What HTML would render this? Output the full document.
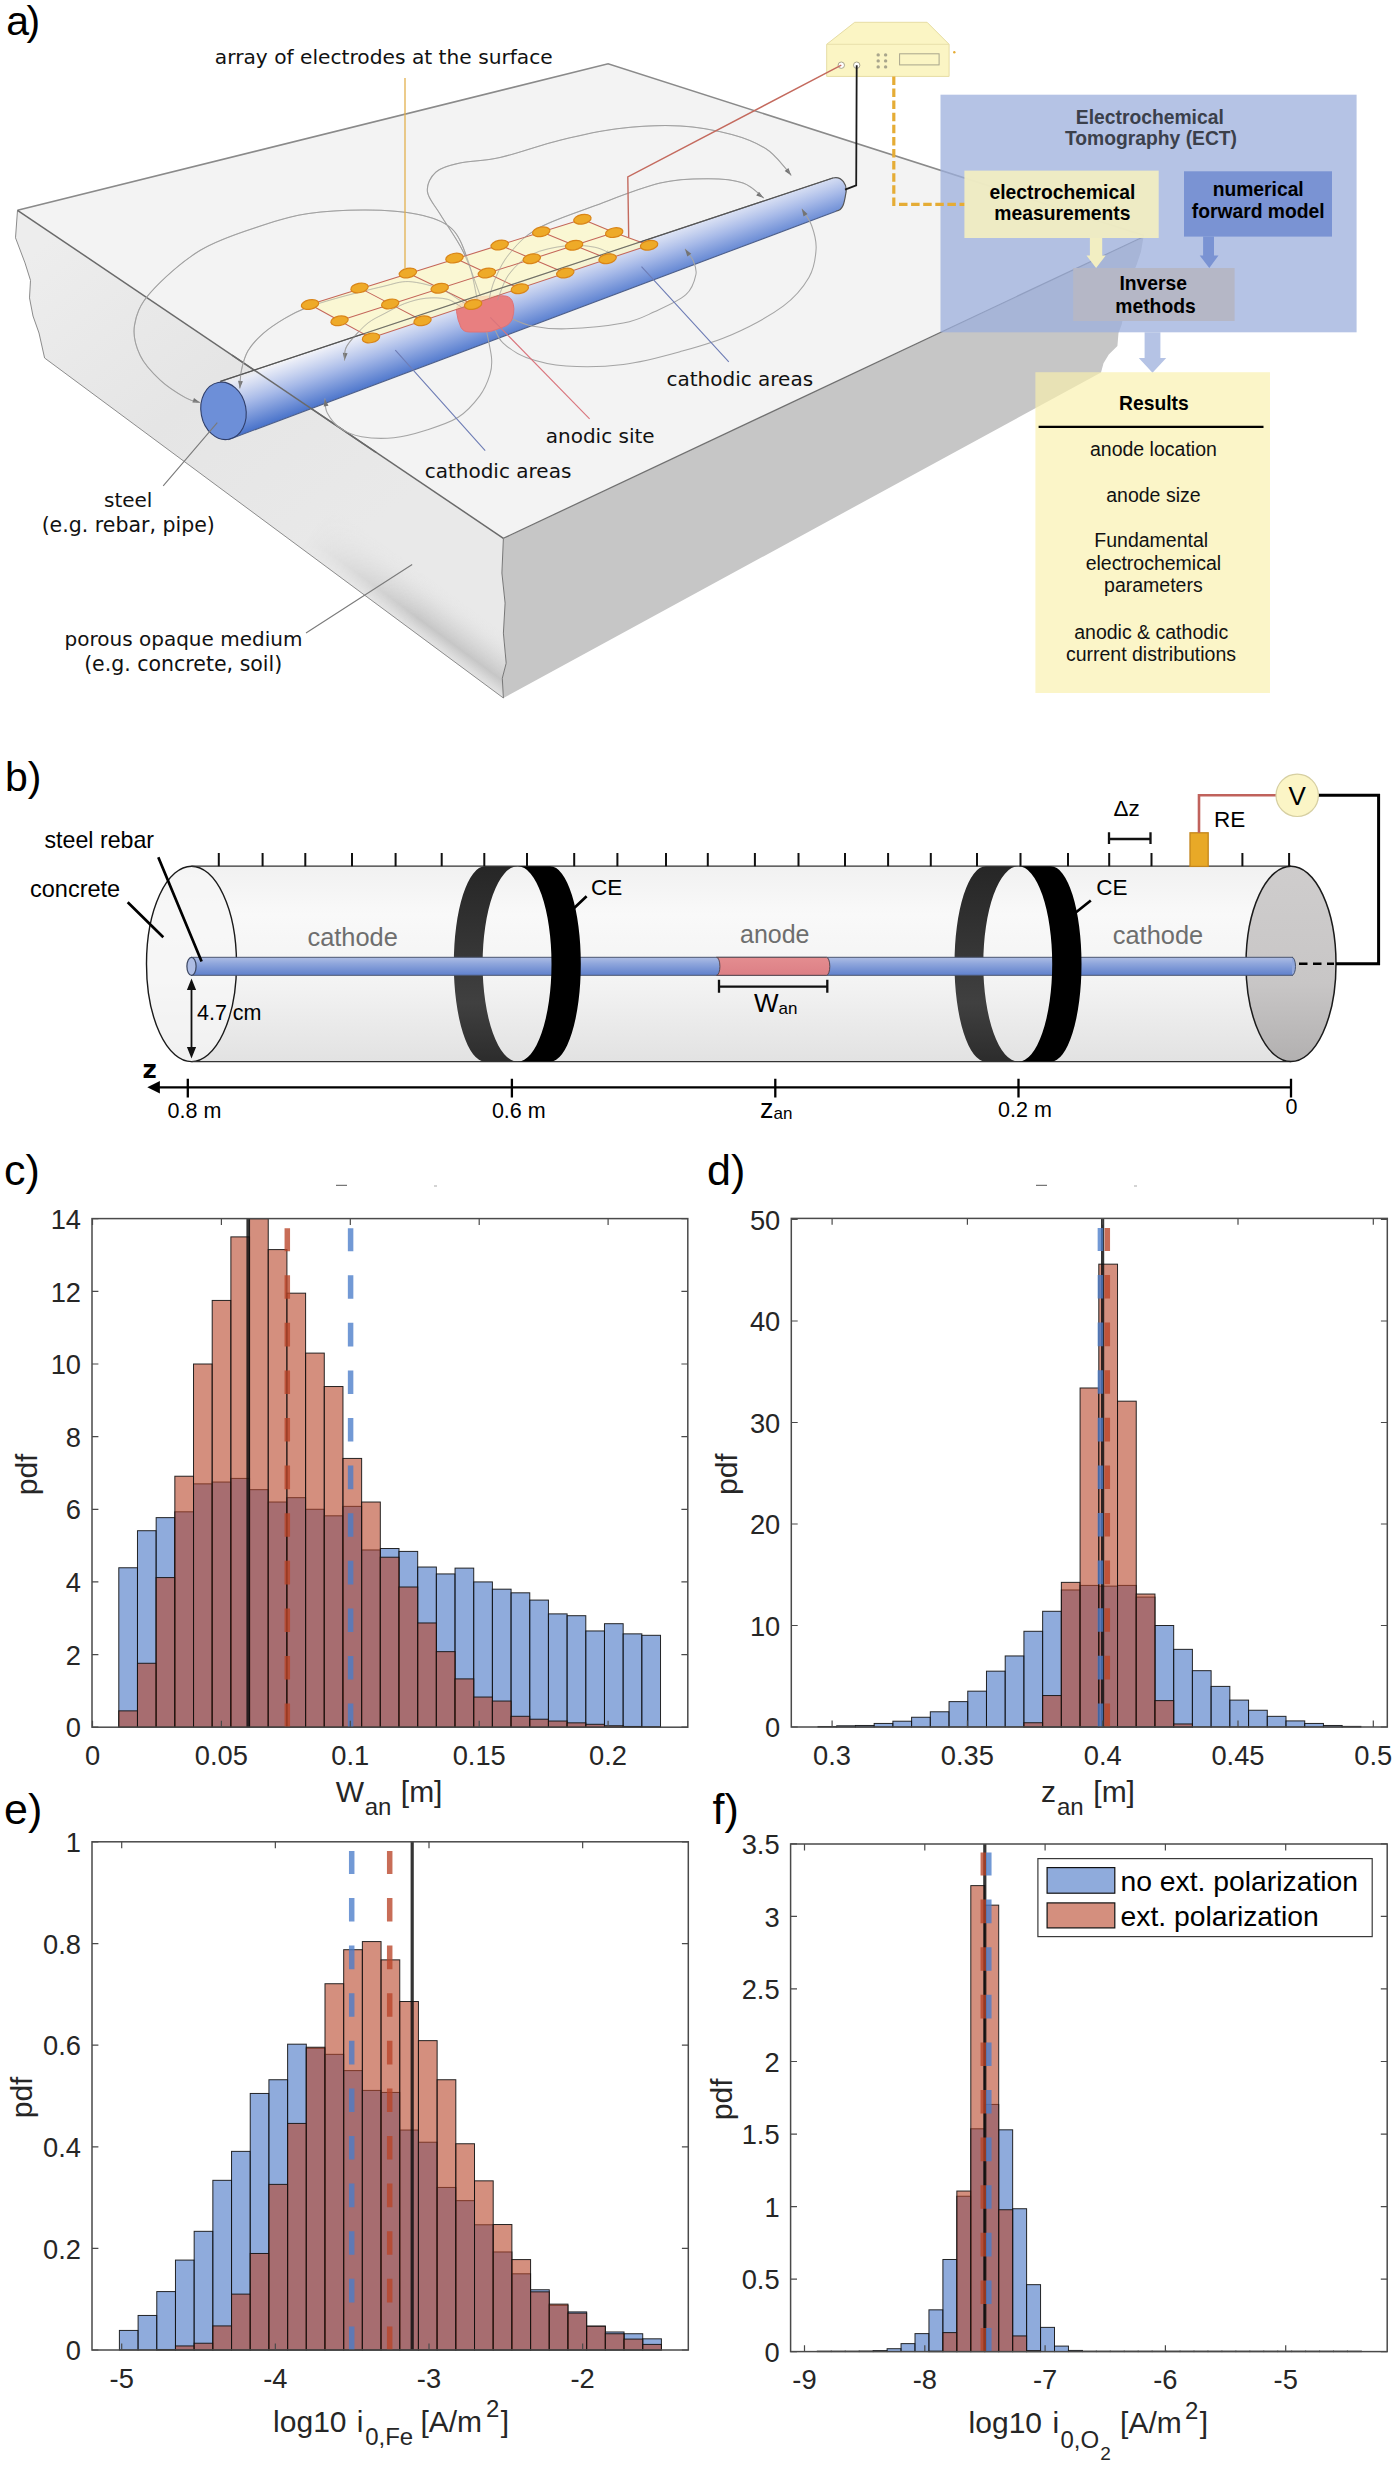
<!DOCTYPE html>
<html lang="en"><head><meta charset="utf-8"><title>Electrochemical Tomography figure</title>
<style>html,body{margin:0;padding:0;background:#fff}svg{display:block}</style></head>
<body>
<svg width="1398" height="2467" viewBox="0 0 1398 2467">
<rect width="1398" height="2467" fill="#fff"/>
<defs>
<linearGradient id="leftface" gradientUnits="userSpaceOnUse" x1="60" y1="230" x2="330" y2="560">
<stop offset="0" stop-color="#ededed"/><stop offset="0.5" stop-color="#e5e5e5"/><stop offset="1" stop-color="#e9e9e9"/></linearGradient>
<linearGradient id="leftface2" gradientUnits="userSpaceOnUse" x1="300" y1="546.9" x2="331" y2="505">
<stop offset="0" stop-color="#e2e2e2" stop-opacity="0.95"/><stop offset="0.25" stop-color="#c6c6c6" stop-opacity="1"/><stop offset="0.6" stop-color="#d9d9d9" stop-opacity="0.75"/><stop offset="1" stop-color="#e8e8e8" stop-opacity="0"/></linearGradient>
</defs>
<path d="M503.4 538.3L1143.5 237L1141 251.6L1136.7 264.5L1131.4 277.3L1126 290.2L1125 307.4L1121.7 324.5L1118.5 333.1L1117.4 346L1108.8 354.6L1103.5 363.2L1101 372.5L503.4 698L502.3 678.2L506.2 663.2L503.4 633.1L505.1 603.1L501.9 573Z" fill="#c6c6c6"/>
<path d="M17.5 210.3L15.5 237.8L25 262.9L30.5 280.4L29.5 297.9L33 316L39 333L44.6 358L503.4 698L502.3 678.2L506.2 663.2L503.4 633.1L505.1 603.1L501.9 573L503.4 538.3Z" fill="url(#leftface)"/>
<defs><linearGradient id="bandfade" gradientUnits="userSpaceOnUse" x1="300" y1="547" x2="410" y2="628"><stop offset="0" stop-color="#000"/><stop offset="1" stop-color="#fff"/></linearGradient><mask id="bandmask" maskUnits="userSpaceOnUse" x="0" y="150" width="520" height="560"><rect x="0" y="150" width="520" height="560" fill="url(#bandfade)"/></mask></defs>
<path d="M17.5 210.3L15.5 237.8L25 262.9L30.5 280.4L29.5 297.9L33 316L39 333L44.6 358L503.4 698L502.3 678.2L506.2 663.2L503.4 633.1L505.1 603.1L501.9 573L503.4 538.3Z" fill="url(#leftface2)" mask="url(#bandmask)"/>
<path d="M17.5 210.3L15.5 237.8L25 262.9L30.5 280.4L29.5 297.9L33 316L39 333L44.6 358L503.4 698" fill="none" stroke="#8c8c8c" stroke-width="1"/>
<path d="M17.5 210.3L608.1 63.8L1144 235.5L503.4 538.3Z" fill="#f3f3f3"/>
<path d="M17.5 210.3L608.1 63.8L1144 235.5" fill="none" stroke="#8a8a8a" stroke-width="1.6"/>
<path d="M17.5 210.3L503.4 538.3" fill="none" stroke="#6a6a6a" stroke-width="1.5"/>
<path d="M503.4 538.3L1144 236.5" fill="none" stroke="#707070" stroke-width="1.25"/>
<path d="M503.4 698L502.3 678.2L506.2 663.2L503.4 633.1L505.1 603.1L501.9 573L503.4 538.3" fill="none" stroke="#777" stroke-width="1"/>
<defs><linearGradient id="cylg" gradientUnits="userSpaceOnUse" x1="220.3" y1="381.4" x2="239.3" y2="435.1"><stop offset="0" stop-color="#f6f6fa" stop-opacity="0.2"/><stop offset="0.1" stop-color="#e6eaf7" stop-opacity="0.9"/><stop offset="0.5" stop-color="#a6b9e8"/><stop offset="1" stop-color="#4872ca"/></linearGradient></defs><path d="M220.3 381.4L832.8 178.0C841.8 175.5 847.8 185.0 845.8 193.5C844.3 203.0 843.1 210.2 836.1 211.2L228.3 439.7Z" fill="url(#cylg)"/>
<path d="M220.3 381.4L832.8 178.0C841.8 175.5 847.8 185.0 845.8 193.5C844.3 203.0 843.1 210.2 836.1 211.2" stroke="#555" stroke-width="1.2" fill="none"/>
<path d="M228.3 439.7L836.1 211.2" stroke="#4d5f8a" stroke-width="1.1" fill="none"/>
<ellipse cx="223.5" cy="410.9" rx="22.5" ry="28.9" transform="rotate(-10.7 223.5 410.9)" fill="#6d8fd8" stroke="#2f3e6a" stroke-width="1.1"/>
<path d="M232 355.1L376 452.3" fill="none" stroke="#6a6a6a" stroke-width="1.5"/>
<path d="M477.4 300.2C475.9 293.8 472.8 273.9 468.5 262.0C464.2 250.1 460.2 236.5 451.7 228.6C443.2 220.7 431.6 217.4 417.3 214.3C403.0 211.2 383.9 210.1 365.8 210.0C347.7 209.9 325.9 210.9 308.6 213.5C291.3 216.1 280.1 219.4 262.0 225.5C243.9 231.6 218.9 239.1 200.3 250.3C181.7 261.5 161.2 280.4 150.2 292.9C139.2 305.4 136.2 315.0 134.5 325.4C132.8 335.8 135.9 346.4 140.2 355.5C144.5 364.6 152.7 373.1 160.2 380.1C167.7 387.1 178.6 393.8 185.3 397.6C192.0 401.4 197.8 401.9 200.3 402.7M468.8 305.9C466.9 304.7 462.2 301.6 457.4 298.7C452.6 295.8 448.3 291.5 440.2 288.7C432.1 285.9 418.3 282.0 408.8 281.6C399.3 281.2 394.5 283.8 383.1 286.4C371.7 289.0 353.1 293.6 340.2 297.2C327.3 300.8 315.2 304.3 305.9 307.9C296.6 311.5 291.5 314.3 284.4 318.6C277.2 322.9 269.1 328.2 263.0 333.6C256.9 339.0 251.6 344.7 248.0 350.8C244.4 356.9 242.9 363.7 241.5 370.0C240.1 376.3 240.1 385.3 239.8 388.4M462.5 307.9C460.0 306.5 453.6 300.9 447.5 299.3C441.4 297.7 433.1 297.5 426.0 298.2C418.9 298.9 411.8 300.9 404.6 303.6C397.5 306.3 389.2 311.1 383.1 314.3C377.0 317.5 373.1 319.0 368.1 322.9C363.1 326.8 356.9 333.6 353.1 337.9C349.4 342.2 347.0 344.9 345.6 348.7C344.2 352.5 344.7 358.5 344.5 360.5M486.0 328.8C486.9 333.6 490.8 349.8 491.5 357.4C492.2 365.0 492.0 368.0 490.0 374.4C488.0 380.8 485.0 388.8 479.7 395.9C474.4 403.0 467.1 411.6 458.2 417.3C449.2 423.0 436.7 426.8 426.0 430.2C415.3 433.6 404.6 436.6 393.9 437.7C383.2 438.8 370.6 438.3 361.7 436.7C352.8 435.1 345.9 432.1 340.2 428.1C334.5 424.2 329.9 417.9 327.3 413.0C324.7 408.1 325.2 401.1 324.8 398.7M480.3 295.9C477.4 288.5 469.8 265.1 463.1 251.5C456.4 237.9 446.1 224.3 440.2 214.3C434.2 204.3 428.1 198.5 427.4 191.4C426.7 184.3 430.6 176.7 436.0 172.0C441.4 167.3 449.3 165.4 460.0 163.0C470.7 160.6 483.3 161.3 500.0 157.5C516.7 153.7 540.5 145.0 560.0 140.2C579.5 135.4 597.2 131.1 617.2 128.7C637.2 126.3 661.1 124.9 680.2 125.9C699.3 126.9 717.4 130.7 731.7 134.5C746.0 138.3 757.0 143.1 766.0 148.8C775.0 154.5 781.8 164.4 786.0 168.8C790.2 173.2 790.3 174.3 791.2 175.4M488.9 300.2C489.8 296.9 491.3 287.7 494.6 280.1C497.9 272.5 501.8 263.0 508.9 254.4C516.0 245.8 523.2 236.7 537.5 228.6C551.8 220.5 574.3 213.4 594.7 205.8C615.1 198.2 641.1 187.6 660.1 183.1C679.1 178.6 695.0 178.8 708.8 178.8C722.6 178.8 734.0 179.9 743.1 183.1C752.2 186.3 760.3 195.5 763.7 198.0M497.5 300.2C499.4 295.9 503.2 282.0 508.9 274.4C514.6 266.8 522.3 259.2 531.8 254.4C541.3 249.6 555.6 247.0 566.1 245.8C576.6 244.6 586.8 245.7 594.7 247.2C602.6 248.7 610.2 253.7 613.3 255.0M494.6 328.8C496.0 331.2 497.9 338.3 503.2 343.1C508.4 347.9 515.6 353.6 526.1 357.4C536.6 361.2 549.9 364.8 566.1 366.0C582.3 367.2 604.3 366.9 623.3 364.5C642.3 362.1 661.9 356.7 680.0 351.7C698.1 346.7 714.5 342.3 731.7 334.7C748.9 327.1 770.3 315.6 783.2 306.1C796.1 296.6 803.4 287.0 808.9 277.5C814.4 268.0 815.6 257.5 816.1 248.9C816.6 240.3 814.2 232.7 811.8 226.0C809.4 219.3 803.5 211.7 801.8 208.8M508.9 317.3C512.7 318.7 522.3 324.0 531.8 325.9C541.3 327.8 550.9 329.3 566.1 328.8C581.4 328.3 608.6 325.9 623.3 323.1C638.0 320.3 644.0 316.5 654.4 311.8C664.8 307.1 679.0 300.9 685.9 294.7C692.8 288.5 694.7 280.3 695.9 274.6C697.1 268.9 694.8 264.6 693.0 260.3C691.2 256.0 686.3 250.8 685.0 248.9" fill="none" stroke="#a4a4a4" stroke-width="1.05"/>
<path d="M200.3 402.7L192.4 402.6L194.0 398.0ZM239.8 388.4L238.1 380.7L242.9 381.2ZM344.5 360.5L342.8 352.8L347.6 353.3ZM324.8 398.7L328.5 405.7L323.7 406.5ZM791.2 175.4L784.7 171.0L788.4 168.0ZM763.7 198.0L756.2 195.5L759.0 191.7ZM613.3 255.0L605.5 254.3L607.3 249.9ZM801.8 208.8L807.6 214.1L803.5 216.5ZM685.0 248.9L691.3 253.7L687.3 256.4Z" fill="#747474"/>
<path d="M456.5 311.5Q455.5 306 461 303.5L477 297.8Q481 296.3 486 296.2L503 295.8Q509.5 295.8 512 300.5Q515.5 308 512.5 318Q510.5 324.5 503.5 327L492 331Q488 332 484 332L469.5 332Q463.5 332 461 327.5Q457.5 320 456.5 311.5Z" fill="#e87f80" stroke="#e07276" stroke-width="1"/>
<path d="M310 304.5L582.4 219.2L649.1 245.2L371 337.9Z" fill="#fbf7c9" fill-opacity="0.78"/>
<path d="M310 304.5L582.4 219.2M339.5 320.8L614.2 232.6M371 337.9L649.1 245.2M310 304.5L339.5 320.8L371 337.9M359.5 287.9L390.2 303.9L422.5 320.8M407.9 273L439.7 288.2L473.1 304.5M454.5 258.1L486.9 273L519.8 288.7M499.7 245L531.8 258.7L565.3 273M541.2 231.8L574.1 245.2L607.6 258.7M582.4 219.2L614.2 232.6L649.1 245.2" fill="none" stroke="#c4665a" stroke-width="1.05"/>
<path d="M477.4 300.2C475.9 293.8 472.8 273.9 468.5 262.0C464.2 250.1 460.2 236.5 451.7 228.6C443.2 220.7 431.6 217.4 417.3 214.3C403.0 211.2 383.9 210.1 365.8 210.0C347.7 209.9 325.9 210.9 308.6 213.5C291.3 216.1 280.1 219.4 262.0 225.5C243.9 231.6 218.9 239.1 200.3 250.3C181.7 261.5 161.2 280.4 150.2 292.9C139.2 305.4 136.2 315.0 134.5 325.4C132.8 335.8 135.9 346.4 140.2 355.5C144.5 364.6 152.7 373.1 160.2 380.1C167.7 387.1 178.6 393.8 185.3 397.6C192.0 401.4 197.8 401.9 200.3 402.7M468.8 305.9C466.9 304.7 462.2 301.6 457.4 298.7C452.6 295.8 448.3 291.5 440.2 288.7C432.1 285.9 418.3 282.0 408.8 281.6C399.3 281.2 394.5 283.8 383.1 286.4C371.7 289.0 353.1 293.6 340.2 297.2C327.3 300.8 315.2 304.3 305.9 307.9C296.6 311.5 291.5 314.3 284.4 318.6C277.2 322.9 269.1 328.2 263.0 333.6C256.9 339.0 251.6 344.7 248.0 350.8C244.4 356.9 242.9 363.7 241.5 370.0C240.1 376.3 240.1 385.3 239.8 388.4M462.5 307.9C460.0 306.5 453.6 300.9 447.5 299.3C441.4 297.7 433.1 297.5 426.0 298.2C418.9 298.9 411.8 300.9 404.6 303.6C397.5 306.3 389.2 311.1 383.1 314.3C377.0 317.5 373.1 319.0 368.1 322.9C363.1 326.8 356.9 333.6 353.1 337.9C349.4 342.2 347.0 344.9 345.6 348.7C344.2 352.5 344.7 358.5 344.5 360.5M480.3 295.9C477.4 288.5 469.8 265.1 463.1 251.5C456.4 237.9 446.1 224.3 440.2 214.3C434.2 204.3 428.1 198.5 427.4 191.4C426.7 184.3 430.6 176.7 436.0 172.0C441.4 167.3 449.3 165.4 460.0 163.0C470.7 160.6 483.3 161.3 500.0 157.5C516.7 153.7 540.5 145.0 560.0 140.2C579.5 135.4 597.2 131.1 617.2 128.7C637.2 126.3 661.1 124.9 680.2 125.9C699.3 126.9 717.4 130.7 731.7 134.5C746.0 138.3 757.0 143.1 766.0 148.8C775.0 154.5 781.8 164.4 786.0 168.8C790.2 173.2 790.3 174.3 791.2 175.4M488.9 300.2C489.8 296.9 491.3 287.7 494.6 280.1C497.9 272.5 501.8 263.0 508.9 254.4C516.0 245.8 523.2 236.7 537.5 228.6C551.8 220.5 574.3 213.4 594.7 205.8C615.1 198.2 641.1 187.6 660.1 183.1C679.1 178.6 695.0 178.8 708.8 178.8C722.6 178.8 734.0 179.9 743.1 183.1C752.2 186.3 760.3 195.5 763.7 198.0M497.5 300.2C499.4 295.9 503.2 282.0 508.9 274.4C514.6 266.8 522.3 259.2 531.8 254.4C541.3 249.6 555.6 247.0 566.1 245.8C576.6 244.6 586.8 245.7 594.7 247.2C602.6 248.7 610.2 253.7 613.3 255.0" fill="none" stroke="#9c9c9c" stroke-width="1" stroke-opacity="0.55"/>
<path d="M220.3 381.4L832.8 178.0" stroke="#555" stroke-width="1.1" fill="none" stroke-opacity="0.8"/>
<g fill="#eeaa28" stroke="#d98518" stroke-width="1.2"><ellipse cx="310" cy="304.5" rx="8.8" ry="4.7" transform="rotate(-11 310 304.5)"/><ellipse cx="359.5" cy="287.9" rx="8.8" ry="4.7" transform="rotate(-11 359.5 287.9)"/><ellipse cx="407.9" cy="273" rx="8.8" ry="4.7" transform="rotate(-11 407.9 273)"/><ellipse cx="454.5" cy="258.1" rx="8.8" ry="4.7" transform="rotate(-11 454.5 258.1)"/><ellipse cx="499.7" cy="245" rx="8.8" ry="4.7" transform="rotate(-11 499.7 245)"/><ellipse cx="541.2" cy="231.8" rx="8.8" ry="4.7" transform="rotate(-11 541.2 231.8)"/><ellipse cx="582.4" cy="219.2" rx="8.8" ry="4.7" transform="rotate(-11 582.4 219.2)"/><ellipse cx="339.5" cy="320.8" rx="8.8" ry="4.7" transform="rotate(-11 339.5 320.8)"/><ellipse cx="390.2" cy="303.9" rx="8.8" ry="4.7" transform="rotate(-11 390.2 303.9)"/><ellipse cx="439.7" cy="288.2" rx="8.8" ry="4.7" transform="rotate(-11 439.7 288.2)"/><ellipse cx="486.9" cy="273" rx="8.8" ry="4.7" transform="rotate(-11 486.9 273)"/><ellipse cx="531.8" cy="258.7" rx="8.8" ry="4.7" transform="rotate(-11 531.8 258.7)"/><ellipse cx="574.1" cy="245.2" rx="8.8" ry="4.7" transform="rotate(-11 574.1 245.2)"/><ellipse cx="614.2" cy="232.6" rx="8.8" ry="4.7" transform="rotate(-11 614.2 232.6)"/><ellipse cx="371" cy="337.9" rx="8.8" ry="4.7" transform="rotate(-11 371 337.9)"/><ellipse cx="422.5" cy="320.8" rx="8.8" ry="4.7" transform="rotate(-11 422.5 320.8)"/><ellipse cx="473.1" cy="304.5" rx="8.8" ry="4.7" transform="rotate(-11 473.1 304.5)"/><ellipse cx="519.8" cy="288.7" rx="8.8" ry="4.7" transform="rotate(-11 519.8 288.7)"/><ellipse cx="565.3" cy="273" rx="8.8" ry="4.7" transform="rotate(-11 565.3 273)"/><ellipse cx="607.6" cy="258.7" rx="8.8" ry="4.7" transform="rotate(-11 607.6 258.7)"/><ellipse cx="649.1" cy="245.2" rx="8.8" ry="4.7" transform="rotate(-11 649.1 245.2)"/></g>
<path d="M826.7 44.3L854.7 22.3H927.1L949.1 44.3V76.4H826.7Z" fill="#fbf5c4" stroke="#e6dca4" stroke-width="1"/>
<path d="M826.7 44.3H949.1" stroke="#e9e0ac" stroke-width="1" fill="none"/>
<g fill="#fff" stroke="#a9a58a" stroke-width="1"><circle cx="841.3" cy="65.2" r="3.2"/><circle cx="856.7" cy="65.2" r="3.2"/></g>
<g fill="#a9a68c"><circle cx="878.2" cy="54.9" r="1.7"/><circle cx="878.2" cy="60.9" r="1.7"/><circle cx="878.2" cy="66.9" r="1.7"/><circle cx="885.6" cy="54.9" r="1.7"/><circle cx="885.6" cy="60.9" r="1.7"/><circle cx="885.6" cy="66.9" r="1.7"/></g>
<rect x="899.6" y="53.8" width="39.5" height="11.1" fill="none" stroke="#a9a68c" stroke-width="1"/>
<circle cx="954.3" cy="52.3" r="1.2" fill="#e5ac35"/>
<path d="M405 78V268.5" stroke="#e2b04e" stroke-width="1.3" fill="none"/>
<path d="M628.7 237.5L627.8 176.8L841.3 65.2" stroke="#c46a5e" stroke-width="1.4" fill="none"/>
<path d="M856.7 65.2L856.2 185.4L845 189.7" stroke="#1a1a1a" stroke-width="1.8" fill="none"/>
<path d="M490.3 317.3L589.6 418.9" stroke="#d9747c" stroke-width="1.1" fill="none"/>
<path d="M395.3 350.2L485.2 450.7M641.5 266.6L728.8 361.9" stroke="#6e7db5" stroke-width="1.1" fill="none"/>
<path d="M163.2 485.8L217.3 422.7M306 633L412.2 564.5" stroke="#7a7a7a" stroke-width="1.1" fill="none"/>
<rect x="940.5" y="94.7" width="416.1" height="237.6" fill="#9cafdc" fill-opacity="0.75"/>
<path d="M893.8 76.4V204.3H965" stroke="#e5ac35" stroke-width="3.2" fill="none" stroke-dasharray="8.5 3.6"/>
<rect x="964.4" y="170.6" width="194.3" height="67.4" fill="#f2eec2" fill-opacity="0.93"/>
<rect x="1184" y="171.3" width="148" height="65.3" fill="#7a93d3"/>
<rect x="1073.2" y="268" width="161.4" height="53" fill="#b5b7c6"/>
<path d="M1089.9 238H1102.2V255.4H1105.7L1096.1 268L1086.5 255.4H1089.9Z" fill="#f2eec2"/>
<path d="M1203.1 236.6H1214V255.4H1218.5L1209.3 268L1199.7 255.4H1203.1Z" fill="#7a93d3"/>
<path d="M1144.6 332.3H1160.4V358H1166.2L1152.5 372.7L1138.8 358H1144.6Z" fill="#b5c3e5"/>
<rect x="1035.4" y="372.2" width="234.6" height="320.8" fill="#f9f0ac" fill-opacity="0.667"/>
<path d="M1038.6 426.9H1263.5" stroke="#000" stroke-width="2.1"/>
<g font-family="DejaVu Sans, Verdana, sans-serif" font-size="20" fill="#111">
<text x="383.8" y="64" text-anchor="middle" font-size="20.2">array of electrodes at the surface</text>
<text x="128.2" y="507.3" text-anchor="middle">steel</text>
<text x="128.2" y="532.4" text-anchor="middle" font-size="20.5">(e.g. rebar, pipe)</text>
<text x="183.5" y="646.3" text-anchor="middle">porous opaque medium</text>
<text x="183.2" y="671.3" text-anchor="middle" font-size="20.5">(e.g. concrete, soil)</text>
<text x="600.2" y="442.6" text-anchor="middle">anodic site</text>
<text x="498" y="477.6" text-anchor="middle">cathodic areas</text>
<text x="739.8" y="385.7" text-anchor="middle">cathodic areas</text>
</g>
<g font-family="Liberation Sans, Arial, Helvetica, sans-serif" font-size="19.3" font-weight="bold" text-anchor="middle">
<text x="1149.8" y="123.8" fill="#3b404b">Electrochemical</text>
<text x="1151" y="145" fill="#3b404b">Tomography (ECT)</text>
<text x="1062.4" y="198.6" fill="#000">electrochemical</text>
<text x="1062.4" y="219.5" fill="#000">measurements</text>
<text x="1258.2" y="195.6" fill="#000">numerical</text>
<text x="1258.2" y="217.8" fill="#000">forward model</text>
<text x="1153.2" y="290.3" fill="#000">Inverse</text>
<text x="1155.5" y="312.5" fill="#000">methods</text>
<text x="1153.9" y="410" fill="#000">Results</text>
</g>
<g font-family="Liberation Sans, Arial, Helvetica, sans-serif" font-size="19.5" fill="#111" text-anchor="middle">
<text x="1153.4" y="456">anode location</text>
<text x="1153.4" y="501.8">anode size</text>
<text x="1151.2" y="547.2">Fundamental</text>
<text x="1153.4" y="570">electrochemical</text>
<text x="1153.4" y="592">parameters</text>
<text x="1151.2" y="638.8">anodic &amp; cathodic</text>
<text x="1151" y="661.3">current distributions</text>
</g>
<defs>
<linearGradient id="cylbody" x1="0" y1="0" x2="0" y2="1">
<stop offset="0" stop-color="#f1f1f1"/><stop offset="0.25" stop-color="#f9f9f9"/>
<stop offset="0.6" stop-color="#f3f3f3"/><stop offset="1" stop-color="#e2e2e2"/></linearGradient>
<linearGradient id="cylend" x1="0" y1="0" x2="0" y2="1">
<stop offset="0" stop-color="#cfcdcd"/><stop offset="0.6" stop-color="#c8c6c6"/><stop offset="1" stop-color="#b2b0b0"/></linearGradient>
<linearGradient id="rebar" x1="0" y1="0" x2="0" y2="1">
<stop offset="0" stop-color="#aebde4"/><stop offset="0.35" stop-color="#8fa6dc"/><stop offset="1" stop-color="#5f80cc"/></linearGradient>
<linearGradient id="anode" x1="0" y1="0" x2="0" y2="1">
<stop offset="0" stop-color="#e48d90"/><stop offset="1" stop-color="#dc7f85"/></linearGradient>
<linearGradient id="ringback" x1="0" y1="0" x2="0" y2="1">
<stop offset="0" stop-color="#262626"/><stop offset="0.7" stop-color="#404040"/><stop offset="1" stop-color="#2c2c2c"/></linearGradient>
</defs>
<path d="M191.5 866.2L1291.0 866.2L1291.0 1061.6L191.5 1061.6A45.0 97.7 0 0 1 191.5 866.2Z" fill="url(#cylbody)"/>
<ellipse cx="191.5" cy="963.9" rx="45.0" ry="97.7" fill="#f6f6f6" fill-opacity="0.7" stroke="#1a1a1a" stroke-width="1.4"/>
<path d="M191.5 866.2H1291.0M191.5 1061.6H1291.0" stroke="#333" stroke-width="1.3" fill="none"/>
<ellipse cx="1291.0" cy="963.9" rx="45.0" ry="97.7" fill="url(#cylend)" stroke="#1a1a1a" stroke-width="1.5"/>
<path d="M485.1 866.2A31.3 97.7 0 0 0 485.1 1061.6L517.7 1061.6A35.1 97.7 0 0 1 517.7 866.2Z" fill="url(#ringback)"/>
<path d="M985.8 866.2A31.3 97.7 0 0 0 985.8 1061.6L1018.4 1061.6A35.1 97.7 0 0 1 1018.4 866.2Z" fill="url(#ringback)"/>
<rect x="191.5" y="957.3" width="1101" height="18.0" fill="url(#rebar)" stroke="#4a5670" stroke-width="1"/>
<path d="M1292 957.3a3.5 9 0 0 1 0 18.0" fill="#8fa6dc" stroke="#4a5670" stroke-width="1"/>
<ellipse cx="191.5" cy="966.3" rx="4.6" ry="9" fill="#aebde4" stroke="#3a4560" stroke-width="1.2"/>
<path d="M716.6 957.3H826.5a3.3 9 0 0 1 0 18.0H716.6a3.3 9 0 0 0 0 -18.0Z" fill="url(#anode)" stroke="#5a4a50" stroke-width="1"/>
<path d="M517.7 866.2A33.8 97.7 0 0 1 517.7 1061.6L550.2 1061.6A30.6 97.7 0 0 0 550.2 866.2Z" fill="#000"/>
<path d="M1018.4 866.2A33.8 97.7 0 0 1 1018.4 1061.6L1050.9 1061.6A30.6 97.7 0 0 0 1050.9 866.2Z" fill="#000"/>
<path d="M218.8 853v13.2M262.6 853v13.2M305.3 853v13.2M352 853v13.2M395.6 853v13.2M441.7 853v13.2M484.3 853v13.2M527 853v13.2M574.2 853v13.2M617.4 853v13.2M666 853v13.2M707.8 853v13.2M754.9 853v13.2M798.5 853v13.2M845 853v13.2M888.1 853v13.2M930.8 853v13.2M977 853v13.2M1020.5 853v13.2M1068 853v13.2M1109.2 853v13.2M1151.5 853v13.2M1242.4 853v13.2M1289.1 853v13.2" stroke="#111" stroke-width="2" fill="none"/>
<path d="M1109 839H1150.5M1109 832.3v11.8M1150.5 832.3v11.8" stroke="#111" stroke-width="2.3" fill="none"/>
<rect x="1190" y="832.8" width="18.2" height="33.6" fill="#e8a927" stroke="#c4861c" stroke-width="1.3"/>
<path d="M1199 832.8V795.2H1277" stroke="#c0625c" stroke-width="2.6" fill="none"/>
<path d="M1318 795.3H1378.6V963.8H1336" stroke="#000" stroke-width="3" fill="none" stroke-linejoin="miter"/>
<path d="M1299 963.8H1334" stroke="#000" stroke-width="2.6" fill="none" stroke-dasharray="8.5 5.5"/>
<circle cx="1297.2" cy="795.3" r="21.2" fill="#fbf5c6" stroke="#d6cfa2" stroke-width="1.2"/>
<path d="M719 986.6H827.3M719 979.8v13M827.3 979.8v13" stroke="#111" stroke-width="2.3" fill="none"/>
<path d="M191.5 984V1053" stroke="#111" stroke-width="1.8" fill="none"/>
<path d="M191.5 978.5l-4.6 11.5h9.2zM191.5 1058.6l-4.6 -11.5h9.2z" fill="#111"/>
<path d="M158.3 857.2L201.6 961.6M127.7 902.2L163.3 937.3M586.6 896.3L572.6 909.6M1090.8 900.5L1074.8 913.3" stroke="#000" stroke-width="2.7" fill="none"/>
<path d="M158 1087.3H1291" stroke="#000" stroke-width="2.3" fill="none"/>
<path d="M147.3 1087.3l12.6 -6.3v12.6z" fill="#000"/>
<path d="M187.8 1078.8v18.6M511.9 1078.8v18.6M775.3 1078.8v18.6M1018.5 1078.8v18.6M1291 1078.8v18.6" stroke="#000" stroke-width="2.3" fill="none"/>
<g font-family="Liberation Sans, Arial, Helvetica, sans-serif" fill="#000">
<text x="44.5" y="847.6" font-size="23.2">steel rebar</text>
<text x="30" y="897.2" font-size="23.5">concrete</text>
<text x="197" y="1020" font-size="21.5">4.7 cm</text>
<text x="591" y="894.5" font-size="22.5">CE</text>
<text x="1096.3" y="894.5" font-size="22.5">CE</text>
<text x="1214" y="826.7" font-size="22.5">RE</text>
<text x="1113.5" y="816" font-size="22.5">Δz</text>
<text x="1297.2" y="805" font-size="26" text-anchor="middle">V</text>
<text x="754" y="1011.7" font-size="26">W<tspan dy="2.5" font-size="17">an</tspan></text>
<text x="760" y="1117.6" font-size="27">z<tspan dy="1.5" font-size="17">an</tspan></text>
<text x="142.5" y="1077.7" font-size="24.5" font-weight="bold" font-family="DejaVu Sans, Verdana, sans-serif">z</text>
<text x="194.5" y="1117.5" font-size="21.5" text-anchor="middle">0.8 m</text>
<text x="518.8" y="1117.5" font-size="21.5" text-anchor="middle">0.6 m</text>
<text x="1025" y="1116.6" font-size="21.5" text-anchor="middle">0.2 m</text>
<text x="1291.5" y="1114.3" font-size="21.5" text-anchor="middle">0</text>
</g>
<g font-family="Liberation Sans, Arial, Helvetica, sans-serif" fill="#6e6e6e" font-size="25.4">
<text x="307.5" y="946.3">cathode</text>
<text x="740" y="943.4" font-size="25">anode</text>
<text x="1112.8" y="944.2">cathode</text>
</g>
<g>
<rect x="92" y="1218.6" width="595.8" height="508.6" fill="#fff"/>
<g fill="#4573c4" fill-opacity="0.6" stroke="#111" stroke-width="1" stroke-opacity="0.9">
<rect x="118.8" y="1567.76" width="18.68" height="159.44"/>
<rect x="137.48" y="1530.71" width="18.68" height="196.49"/>
<rect x="156.16" y="1517.63" width="18.68" height="209.57"/>
<rect x="174.84" y="1511.82" width="18.68" height="215.38"/>
<rect x="193.52" y="1483.86" width="18.68" height="243.34"/>
<rect x="212.2" y="1482.04" width="18.68" height="245.16"/>
<rect x="230.88" y="1478.41" width="18.68" height="248.79"/>
<rect x="249.56" y="1489.67" width="18.68" height="237.53"/>
<rect x="268.24" y="1502.02" width="18.68" height="225.18"/>
<rect x="286.92" y="1497.66" width="18.68" height="229.54"/>
<rect x="305.6" y="1509.28" width="18.68" height="217.92"/>
<rect x="324.28" y="1515.82" width="18.68" height="211.38"/>
<rect x="342.96" y="1506.37" width="18.68" height="220.83"/>
<rect x="361.64" y="1549.96" width="18.68" height="177.24"/>
<rect x="380.32" y="1548.51" width="18.68" height="178.69"/>
<rect x="399" y="1551.41" width="18.68" height="175.79"/>
<rect x="417.68" y="1567.03" width="18.68" height="160.17"/>
<rect x="436.36" y="1573.93" width="18.68" height="153.27"/>
<rect x="455.04" y="1568.12" width="18.68" height="159.08"/>
<rect x="473.72" y="1581.92" width="18.68" height="145.28"/>
<rect x="492.4" y="1589.18" width="18.68" height="138.02"/>
<rect x="511.08" y="1592.82" width="18.68" height="134.38"/>
<rect x="529.76" y="1600.08" width="18.68" height="127.12"/>
<rect x="548.44" y="1613.88" width="18.68" height="113.32"/>
<rect x="567.12" y="1615.7" width="18.68" height="111.5"/>
<rect x="585.8" y="1630.95" width="18.68" height="96.25"/>
<rect x="604.48" y="1623.69" width="18.68" height="103.51"/>
<rect x="623.16" y="1633.86" width="18.68" height="93.34"/>
<rect x="641.84" y="1635.31" width="18.68" height="91.89"/>
</g>
<g fill="#b84428" fill-opacity="0.6" stroke="#111" stroke-width="1" stroke-opacity="0.9">
<rect x="118.8" y="1710.86" width="18.68" height="16.34"/>
<rect x="137.48" y="1663.28" width="18.68" height="63.92"/>
<rect x="156.16" y="1577.56" width="18.68" height="149.64"/>
<rect x="174.84" y="1476.23" width="18.68" height="250.97"/>
<rect x="193.52" y="1364" width="18.68" height="363.2"/>
<rect x="212.2" y="1300.44" width="18.68" height="426.76"/>
<rect x="230.88" y="1236.88" width="18.68" height="490.32"/>
<rect x="249.56" y="1218.72" width="18.68" height="508.48"/>
<rect x="268.24" y="1249.59" width="18.68" height="477.61"/>
<rect x="286.92" y="1293.18" width="18.68" height="434.02"/>
<rect x="305.6" y="1353.1" width="18.68" height="374.1"/>
<rect x="324.28" y="1386.52" width="18.68" height="340.68"/>
<rect x="342.96" y="1458.43" width="18.68" height="268.77"/>
<rect x="361.64" y="1502.02" width="18.68" height="225.18"/>
<rect x="380.32" y="1557.22" width="18.68" height="169.98"/>
<rect x="399" y="1587" width="18.68" height="140.2"/>
<rect x="417.68" y="1622.96" width="18.68" height="104.24"/>
<rect x="436.36" y="1651.65" width="18.68" height="75.55"/>
<rect x="455.04" y="1678.89" width="18.68" height="48.31"/>
<rect x="473.72" y="1697.05" width="18.68" height="30.15"/>
<rect x="492.4" y="1701.05" width="18.68" height="26.15"/>
<rect x="511.08" y="1716.3" width="18.68" height="10.9"/>
<rect x="529.76" y="1719.21" width="18.68" height="7.99"/>
<rect x="548.44" y="1721.03" width="18.68" height="6.17"/>
<rect x="567.12" y="1722.84" width="18.68" height="4.36"/>
<rect x="585.8" y="1724.29" width="18.68" height="2.91"/>
<rect x="604.48" y="1725.75" width="18.68" height="1.45"/>
<rect x="623.16" y="1726.47" width="18.68" height="0.73"/>
<rect x="641.84" y="1726.84" width="18.68" height="0.36"/>
</g>
<line x1="248" y1="1727.2" x2="248" y2="1218.6" stroke="#111" stroke-width="3.2" stroke-opacity="0.85"/>
<line x1="287.3" y1="1727.2" x2="287.3" y2="1228.2" stroke="#b84428" stroke-width="5.5" stroke-opacity="0.78" stroke-dasharray="23.6 24"/>
<line x1="350.6" y1="1727.2" x2="350.6" y2="1228.2" stroke="#4a7cc9" stroke-width="5.5" stroke-opacity="0.78" stroke-dasharray="23.6 24"/>
<rect x="92" y="1218.6" width="595.8" height="508.6" fill="none" stroke="#4a4a4a" stroke-width="1.5"/>
<path d="M92.5 1727.2v-6.4M92.5 1218.6v6.4M221.4 1727.2v-6.4M221.4 1218.6v6.4M350.3 1727.2v-6.4M350.3 1218.6v6.4M479.2 1727.2v-6.4M479.2 1218.6v6.4M608.1 1727.2v-6.4M608.1 1218.6v6.4M92 1727.2h6.4M687.8 1727.2h-6.4M92 1654.56h6.4M687.8 1654.56h-6.4M92 1581.92h6.4M687.8 1581.92h-6.4M92 1509.28h6.4M687.8 1509.28h-6.4M92 1436.64h6.4M687.8 1436.64h-6.4M92 1364h6.4M687.8 1364h-6.4M92 1291.36h6.4M687.8 1291.36h-6.4M92 1218.72h6.4M687.8 1218.72h-6.4" stroke="#4a4a4a" stroke-width="1.2" fill="none"/>
<g font-family="Liberation Sans, Arial, Helvetica, sans-serif" font-size="27.3" fill="#262626">
<text x="92.5" y="1764.7" text-anchor="middle">0</text>
<text x="221.4" y="1764.7" text-anchor="middle">0.05</text>
<text x="350.3" y="1764.7" text-anchor="middle">0.1</text>
<text x="479.2" y="1764.7" text-anchor="middle">0.15</text>
<text x="608.1" y="1764.7" text-anchor="middle">0.2</text>
<text x="81" y="1737.4" text-anchor="end">0</text>
<text x="81" y="1664.76" text-anchor="end">2</text>
<text x="81" y="1592.12" text-anchor="end">4</text>
<text x="81" y="1519.48" text-anchor="end">6</text>
<text x="81" y="1446.84" text-anchor="end">8</text>
<text x="81" y="1374.2" text-anchor="end">10</text>
<text x="81" y="1301.56" text-anchor="end">12</text>
<text x="81" y="1228.92" text-anchor="end">14</text>
</g>
<text font-family="Liberation Sans, Arial, Helvetica, sans-serif" font-size="30" fill="#262626" text-anchor="middle" transform="translate(37.3 1474.4) rotate(-90)">pdf</text>
<g font-family="Liberation Sans, Arial, Helvetica, sans-serif" fill="#262626"><text x="335.7" y="1801.8" font-size="30">W</text><text x="364.7" y="1815.4" font-size="24">an</text><text x="400.8" y="1801.8" font-size="30">[m]</text></g>
</g>
<g>
<rect x="791.3" y="1218.4" width="596" height="508.6" fill="#fff"/>
<g fill="#4573c4" fill-opacity="0.6" stroke="#111" stroke-width="1" stroke-opacity="0.9">
<rect x="818" y="1726.49" width="18.72" height="0.51"/>
<rect x="836.72" y="1725.78" width="18.72" height="1.22"/>
<rect x="855.44" y="1725.48" width="18.72" height="1.52"/>
<rect x="874.16" y="1723.45" width="18.72" height="3.55"/>
<rect x="892.88" y="1721.21" width="18.72" height="5.79"/>
<rect x="911.6" y="1717.26" width="18.72" height="9.74"/>
<rect x="930.32" y="1711.78" width="18.72" height="15.22"/>
<rect x="949.04" y="1701.62" width="18.72" height="25.38"/>
<rect x="967.76" y="1691.17" width="18.72" height="35.83"/>
<rect x="986.48" y="1671.17" width="18.72" height="55.83"/>
<rect x="1005.2" y="1655.95" width="18.72" height="71.05"/>
<rect x="1023.92" y="1631.29" width="18.72" height="95.71"/>
<rect x="1042.64" y="1611.29" width="18.72" height="115.71"/>
<rect x="1061.36" y="1589.97" width="18.72" height="137.03"/>
<rect x="1080.08" y="1585.41" width="18.72" height="141.59"/>
<rect x="1098.8" y="1586.12" width="18.72" height="140.88"/>
<rect x="1117.52" y="1585.41" width="18.72" height="141.59"/>
<rect x="1136.24" y="1597.08" width="18.72" height="129.92"/>
<rect x="1154.96" y="1625.5" width="18.72" height="101.5"/>
<rect x="1173.68" y="1649.35" width="18.72" height="77.65"/>
<rect x="1192.4" y="1670.67" width="18.72" height="56.33"/>
<rect x="1211.12" y="1686.4" width="18.72" height="40.6"/>
<rect x="1229.84" y="1700.1" width="18.72" height="26.9"/>
<rect x="1248.56" y="1710.25" width="18.72" height="16.75"/>
<rect x="1267.28" y="1716.34" width="18.72" height="10.66"/>
<rect x="1286" y="1720.91" width="18.72" height="6.09"/>
<rect x="1304.72" y="1723.45" width="18.72" height="3.55"/>
<rect x="1323.44" y="1725.48" width="18.72" height="1.52"/>
<rect x="1342.16" y="1726.39" width="18.72" height="0.61"/>
</g>
<g fill="#b84428" fill-opacity="0.6" stroke="#111" stroke-width="1" stroke-opacity="0.9">
<rect x="1023.92" y="1722.74" width="18.72" height="4.26"/>
<rect x="1042.64" y="1695.54" width="18.72" height="31.46"/>
<rect x="1061.36" y="1582.36" width="18.72" height="144.64"/>
<rect x="1080.08" y="1387.99" width="18.72" height="339.01"/>
<rect x="1098.8" y="1264.16" width="18.72" height="462.84"/>
<rect x="1117.52" y="1401.18" width="18.72" height="325.82"/>
<rect x="1136.24" y="1594.04" width="18.72" height="132.96"/>
<rect x="1154.96" y="1700.61" width="18.72" height="26.39"/>
<rect x="1173.68" y="1723.95" width="18.72" height="3.05"/>
</g>
<line x1="1102.6" y1="1727" x2="1102.6" y2="1218.4" stroke="#111" stroke-width="3.2" stroke-opacity="0.85"/>
<line x1="1107.3" y1="1727" x2="1107.3" y2="1228" stroke="#b84428" stroke-width="5.5" stroke-opacity="0.78" stroke-dasharray="23.6 24"/>
<line x1="1100.4" y1="1727" x2="1100.4" y2="1228" stroke="#4a7cc9" stroke-width="5.5" stroke-opacity="0.78" stroke-dasharray="23.6 24"/>
<rect x="791.3" y="1218.4" width="596" height="508.6" fill="none" stroke="#4a4a4a" stroke-width="1.5"/>
<path d="M832.1 1727v-6.4M832.1 1218.4v6.4M967.4 1727v-6.4M967.4 1218.4v6.4M1102.7 1727v-6.4M1102.7 1218.4v6.4M1238 1727v-6.4M1238 1218.4v6.4M1373.3 1727v-6.4M1373.3 1218.4v6.4M791.3 1727h6.4M1387.3 1727h-6.4M791.3 1625.5h6.4M1387.3 1625.5h-6.4M791.3 1524h6.4M1387.3 1524h-6.4M791.3 1422.5h6.4M1387.3 1422.5h-6.4M791.3 1321h6.4M1387.3 1321h-6.4M791.3 1219.5h6.4M1387.3 1219.5h-6.4" stroke="#4a4a4a" stroke-width="1.2" fill="none"/>
<g font-family="Liberation Sans, Arial, Helvetica, sans-serif" font-size="27.3" fill="#262626">
<text x="832.1" y="1764.5" text-anchor="middle">0.3</text>
<text x="967.4" y="1764.5" text-anchor="middle">0.35</text>
<text x="1102.7" y="1764.5" text-anchor="middle">0.4</text>
<text x="1238" y="1764.5" text-anchor="middle">0.45</text>
<text x="1373.3" y="1764.5" text-anchor="middle">0.5</text>
<text x="780.3" y="1737.2" text-anchor="end">0</text>
<text x="780.3" y="1635.7" text-anchor="end">10</text>
<text x="780.3" y="1534.2" text-anchor="end">20</text>
<text x="780.3" y="1432.7" text-anchor="end">30</text>
<text x="780.3" y="1331.2" text-anchor="end">40</text>
<text x="780.3" y="1229.7" text-anchor="end">50</text>
</g>
<text font-family="Liberation Sans, Arial, Helvetica, sans-serif" font-size="30" fill="#262626" text-anchor="middle" transform="translate(736.5 1474.2) rotate(-90)">pdf</text>
<g font-family="Liberation Sans, Arial, Helvetica, sans-serif" fill="#262626"><text x="1041.1" y="1801.8" font-size="30">z</text><text x="1056.9" y="1814.8" font-size="24">an</text><text x="1093.3" y="1801.8" font-size="30">[m]</text></g>
</g>
<g>
<rect x="92" y="1841.8" width="596.3" height="508.2" fill="#fff"/>
<g fill="#4573c4" fill-opacity="0.6" stroke="#111" stroke-width="1" stroke-opacity="0.9">
<rect x="119.4" y="2330.44" width="18.69" height="19.56"/>
<rect x="138.09" y="2315.46" width="18.69" height="34.54"/>
<rect x="156.78" y="2291.58" width="18.69" height="58.42"/>
<rect x="175.47" y="2260.08" width="18.69" height="89.92"/>
<rect x="194.16" y="2231.33" width="18.69" height="118.67"/>
<rect x="212.85" y="2180.33" width="18.69" height="169.67"/>
<rect x="231.54" y="2151.37" width="18.69" height="198.63"/>
<rect x="250.23" y="2093.46" width="18.69" height="256.54"/>
<rect x="268.92" y="2079.74" width="18.69" height="270.26"/>
<rect x="287.61" y="2044.18" width="18.69" height="305.82"/>
<rect x="306.3" y="2048.25" width="18.69" height="301.75"/>
<rect x="324.99" y="2054.34" width="18.69" height="295.66"/>
<rect x="343.68" y="2070.6" width="18.69" height="279.4"/>
<rect x="362.37" y="2090.41" width="18.69" height="259.59"/>
<rect x="381.06" y="2092.44" width="18.69" height="257.56"/>
<rect x="399.75" y="2130.04" width="18.69" height="219.96"/>
<rect x="418.44" y="2142.23" width="18.69" height="207.77"/>
<rect x="437.13" y="2187.44" width="18.69" height="162.56"/>
<rect x="455.82" y="2200.65" width="18.69" height="149.35"/>
<rect x="474.51" y="2224.78" width="18.69" height="125.22"/>
<rect x="493.2" y="2251.96" width="18.69" height="98.04"/>
<rect x="511.89" y="2273.8" width="18.69" height="76.2"/>
<rect x="530.58" y="2289.75" width="18.69" height="60.25"/>
<rect x="549.27" y="2305.3" width="18.69" height="44.7"/>
<rect x="567.96" y="2311.9" width="18.69" height="38.1"/>
<rect x="586.65" y="2326.12" width="18.69" height="23.88"/>
<rect x="605.34" y="2331.97" width="18.69" height="18.03"/>
<rect x="624.03" y="2333.74" width="18.69" height="16.26"/>
<rect x="642.72" y="2338.82" width="18.69" height="11.18"/>
</g>
<g fill="#b84428" fill-opacity="0.6" stroke="#111" stroke-width="1" stroke-opacity="0.9">
<rect x="156.78" y="2349.49" width="18.69" height="0.51"/>
<rect x="175.47" y="2345.94" width="18.69" height="4.06"/>
<rect x="194.16" y="2343.24" width="18.69" height="6.76"/>
<rect x="212.85" y="2325.92" width="18.69" height="24.08"/>
<rect x="231.54" y="2294.12" width="18.69" height="55.88"/>
<rect x="250.23" y="2253.48" width="18.69" height="96.52"/>
<rect x="268.92" y="2184.39" width="18.69" height="165.61"/>
<rect x="287.61" y="2123.43" width="18.69" height="226.57"/>
<rect x="306.3" y="2047.23" width="18.69" height="302.77"/>
<rect x="324.99" y="1983.73" width="18.69" height="366.27"/>
<rect x="343.68" y="1949.7" width="18.69" height="400.3"/>
<rect x="362.37" y="1941.57" width="18.69" height="408.43"/>
<rect x="381.06" y="1959.86" width="18.69" height="390.14"/>
<rect x="399.75" y="2001.51" width="18.69" height="348.49"/>
<rect x="418.44" y="2040.63" width="18.69" height="309.37"/>
<rect x="437.13" y="2079.74" width="18.69" height="270.26"/>
<rect x="455.82" y="2143.75" width="18.69" height="206.25"/>
<rect x="474.51" y="2180.84" width="18.69" height="169.16"/>
<rect x="493.2" y="2224.52" width="18.69" height="125.48"/>
<rect x="511.89" y="2259.58" width="18.69" height="90.42"/>
<rect x="530.58" y="2291.83" width="18.69" height="58.17"/>
<rect x="549.27" y="2304.13" width="18.69" height="45.87"/>
<rect x="567.96" y="2313.12" width="18.69" height="36.88"/>
<rect x="586.65" y="2326.23" width="18.69" height="23.77"/>
<rect x="605.34" y="2333.74" width="18.69" height="16.26"/>
<rect x="624.03" y="2339.08" width="18.69" height="10.92"/>
<rect x="642.72" y="2344.41" width="18.69" height="5.59"/>
</g>
<line x1="412.2" y1="2350" x2="412.2" y2="1841.8" stroke="#111" stroke-width="3.2" stroke-opacity="0.85"/>
<line x1="389.7" y1="2350" x2="389.7" y2="1851" stroke="#b84428" stroke-width="5.5" stroke-opacity="0.78" stroke-dasharray="23.6 24"/>
<line x1="351.7" y1="2350" x2="351.7" y2="1851" stroke="#4a7cc9" stroke-width="5.5" stroke-opacity="0.78" stroke-dasharray="23.6 24"/>
<rect x="92" y="1841.8" width="596.3" height="508.2" fill="none" stroke="#4a4a4a" stroke-width="1.5"/>
<path d="M121.7 2350v-6.4M121.7 1841.8v6.4M275.35 2350v-6.4M275.35 1841.8v6.4M429 2350v-6.4M429 1841.8v6.4M582.65 2350v-6.4M582.65 1841.8v6.4M92 2350h6.4M688.3 2350h-6.4M92 2248.4h6.4M688.3 2248.4h-6.4M92 2146.8h6.4M688.3 2146.8h-6.4M92 2045.2h6.4M688.3 2045.2h-6.4M92 1943.6h6.4M688.3 1943.6h-6.4M92 1842h6.4M688.3 1842h-6.4" stroke="#4a4a4a" stroke-width="1.2" fill="none"/>
<g font-family="Liberation Sans, Arial, Helvetica, sans-serif" font-size="27.3" fill="#262626">
<text x="121.7" y="2387.5" text-anchor="middle">-5</text>
<text x="275.35" y="2387.5" text-anchor="middle">-4</text>
<text x="429" y="2387.5" text-anchor="middle">-3</text>
<text x="582.65" y="2387.5" text-anchor="middle">-2</text>
<text x="81" y="2360.2" text-anchor="end">0</text>
<text x="81" y="2258.6" text-anchor="end">0.2</text>
<text x="81" y="2157" text-anchor="end">0.4</text>
<text x="81" y="2055.4" text-anchor="end">0.6</text>
<text x="81" y="1953.8" text-anchor="end">0.8</text>
<text x="81" y="1852.2" text-anchor="end">1</text>
</g>
<text font-family="Liberation Sans, Arial, Helvetica, sans-serif" font-size="30" fill="#262626" text-anchor="middle" transform="translate(32 2097.4) rotate(-90)">pdf</text>
<g font-family="Liberation Sans, Arial, Helvetica, sans-serif" fill="#262626"><text x="273.1" y="2431.5" font-size="30">log10</text><text x="356.8" y="2431.5" font-size="30">i</text><text x="365.2" y="2445" font-size="24">0,Fe</text><text x="420.4" y="2431.5" font-size="30">[A/m</text><text x="486" y="2417" font-size="24">2</text><text x="500.7" y="2431.5" font-size="30">]</text></g>
</g>
<g>
<rect x="790.6" y="1844.0" width="596.6" height="507.6" fill="#fff"/>
<g fill="#4573c4" fill-opacity="0.6" stroke="#111" stroke-width="1" stroke-opacity="0.9">
<rect x="817.35" y="2351.16" width="13.95" height="0.44"/>
<rect x="831.3" y="2351.16" width="13.95" height="0.44"/>
<rect x="845.25" y="2351.16" width="13.95" height="0.44"/>
<rect x="859.2" y="2351.02" width="13.95" height="0.58"/>
<rect x="873.15" y="2350.58" width="13.95" height="1.02"/>
<rect x="887.1" y="2348.7" width="13.95" height="2.9"/>
<rect x="901.05" y="2343.62" width="13.95" height="7.98"/>
<rect x="915" y="2333.61" width="13.95" height="17.99"/>
<rect x="928.95" y="2309.83" width="13.95" height="41.77"/>
<rect x="942.9" y="2259.49" width="13.95" height="92.11"/>
<rect x="956.85" y="2196.25" width="13.95" height="155.35"/>
<rect x="970.8" y="2128.8" width="13.95" height="222.8"/>
<rect x="984.75" y="2104.43" width="13.95" height="247.17"/>
<rect x="998.7" y="2129.82" width="13.95" height="221.78"/>
<rect x="1012.65" y="2208.73" width="13.95" height="142.87"/>
<rect x="1026.6" y="2284.66" width="13.95" height="66.94"/>
<rect x="1040.55" y="2327.38" width="13.95" height="24.22"/>
<rect x="1054.5" y="2346.09" width="13.95" height="5.51"/>
<rect x="1068.45" y="2350.44" width="13.95" height="1.16"/>
<rect x="1082.4" y="2351.16" width="13.95" height="0.44"/>
<rect x="1096.35" y="2351.16" width="13.95" height="0.44"/>
<rect x="1110.3" y="2351.16" width="13.95" height="0.44"/>
<rect x="1124.25" y="2351.16" width="13.95" height="0.44"/>
<rect x="1138.2" y="2351.16" width="13.95" height="0.44"/>
<rect x="1152.15" y="2351.16" width="13.95" height="0.44"/>
<rect x="1166.1" y="2351.16" width="13.95" height="0.44"/>
<rect x="1180.05" y="2351.16" width="13.95" height="0.44"/>
<rect x="1194" y="2351.16" width="13.95" height="0.44"/>
<rect x="1207.95" y="2351.16" width="13.95" height="0.44"/>
<rect x="1221.9" y="2351.16" width="13.95" height="0.44"/>
<rect x="1235.85" y="2351.16" width="13.95" height="0.44"/>
<rect x="1249.8" y="2351.16" width="13.95" height="0.44"/>
<rect x="1263.75" y="2351.16" width="13.95" height="0.44"/>
<rect x="1277.7" y="2351.16" width="13.95" height="0.44"/>
<rect x="1291.65" y="2351.16" width="13.95" height="0.44"/>
<rect x="1305.6" y="2351.16" width="13.95" height="0.44"/>
<rect x="1319.55" y="2351.16" width="13.95" height="0.44"/>
<rect x="1333.5" y="2351.16" width="13.95" height="0.44"/>
<rect x="1347.45" y="2351.16" width="13.95" height="0.44"/>
</g>
<g fill="#b84428" fill-opacity="0.6" stroke="#111" stroke-width="1" stroke-opacity="0.9">
<rect x="928.95" y="2351.16" width="13.95" height="0.44"/>
<rect x="942.9" y="2332.6" width="13.95" height="19"/>
<rect x="956.85" y="2191.03" width="13.95" height="160.57"/>
<rect x="970.8" y="1885.61" width="13.95" height="465.99"/>
<rect x="984.75" y="1905.14" width="13.95" height="446.46"/>
<rect x="998.7" y="2209.74" width="13.95" height="141.86"/>
<rect x="1012.65" y="2335.93" width="13.95" height="15.67"/>
<rect x="1026.6" y="2350.58" width="13.95" height="1.02"/>
</g>
<line x1="984.8" y1="2351.6" x2="984.8" y2="1844" stroke="#111" stroke-width="3.2" stroke-opacity="0.85"/>
<line x1="983.3" y1="2351.6" x2="983.3" y2="1852.6" stroke="#b84428" stroke-width="5.5" stroke-opacity="0.78" stroke-dasharray="23.6 24"/>
<line x1="988.8" y1="2351.6" x2="988.8" y2="1852.6" stroke="#4a7cc9" stroke-width="5.5" stroke-opacity="0.78" stroke-dasharray="23.6 24"/>
<rect x="790.6" y="1844.0" width="596.6" height="507.6" fill="none" stroke="#4a4a4a" stroke-width="1.5"/>
<path d="M804.5 2351.6v-6.4M804.5 1844v6.4M924.8 2351.6v-6.4M924.8 1844v6.4M1045.1 2351.6v-6.4M1045.1 1844v6.4M1165.4 2351.6v-6.4M1165.4 1844v6.4M1285.7 2351.6v-6.4M1285.7 1844v6.4M790.6 2351.6h6.4M1387.2 2351.6h-6.4M790.6 2279.07h6.4M1387.2 2279.07h-6.4M790.6 2206.55h6.4M1387.2 2206.55h-6.4M790.6 2134.03h6.4M1387.2 2134.03h-6.4M790.6 2061.5h6.4M1387.2 2061.5h-6.4M790.6 1988.97h6.4M1387.2 1988.97h-6.4M790.6 1916.45h6.4M1387.2 1916.45h-6.4M790.6 1843.92h6.4M1387.2 1843.92h-6.4" stroke="#4a4a4a" stroke-width="1.2" fill="none"/>
<g font-family="Liberation Sans, Arial, Helvetica, sans-serif" font-size="27.3" fill="#262626">
<text x="804.5" y="2389.1" text-anchor="middle">-9</text>
<text x="924.8" y="2389.1" text-anchor="middle">-8</text>
<text x="1045.1" y="2389.1" text-anchor="middle">-7</text>
<text x="1165.4" y="2389.1" text-anchor="middle">-6</text>
<text x="1285.7" y="2389.1" text-anchor="middle">-5</text>
<text x="779.6" y="2361.8" text-anchor="end">0</text>
<text x="779.6" y="2289.27" text-anchor="end">0.5</text>
<text x="779.6" y="2216.75" text-anchor="end">1</text>
<text x="779.6" y="2144.22" text-anchor="end">1.5</text>
<text x="779.6" y="2071.7" text-anchor="end">2</text>
<text x="779.6" y="1999.17" text-anchor="end">2.5</text>
<text x="779.6" y="1926.65" text-anchor="end">3</text>
<text x="779.6" y="1854.12" text-anchor="end">3.5</text>
</g>
<text font-family="Liberation Sans, Arial, Helvetica, sans-serif" font-size="30" fill="#262626" text-anchor="middle" transform="translate(732 2099.3) rotate(-90)">pdf</text>
<g font-family="Liberation Sans, Arial, Helvetica, sans-serif" fill="#262626"><text x="968.6" y="2433.2" font-size="30">log10</text><text x="1052.6" y="2433.2" font-size="30">i</text><text x="1060.4" y="2447.5" font-size="24">0,O</text><text x="1100.3" y="2460.3" font-size="19">2</text><text x="1120.1" y="2433.2" font-size="30">[A/m</text><text x="1185.1" y="2418.8" font-size="24">2</text><text x="1199.7" y="2433.2" font-size="30">]</text></g>
</g>
<rect x="1037.9" y="1858.6" width="334.3" height="78" fill="#fff" stroke="#3a3a3a" stroke-width="1.2"/>
<rect x="1047.1" y="1867.6" width="67.7" height="25.6" fill="#4573c4" fill-opacity="0.6" stroke="#111" stroke-width="1.2"/>
<rect x="1047.1" y="1902.9" width="67.7" height="25" fill="#b84428" fill-opacity="0.6" stroke="#111" stroke-width="1.2"/>
<text font-family="Liberation Sans, Arial, Helvetica, sans-serif" font-size="28.3" fill="#000" x="1120.5" y="1890.5">no ext. polarization</text>
<text font-family="Liberation Sans, Arial, Helvetica, sans-serif" font-size="28.3" fill="#000" x="1120.5" y="1925.5">ext. polarization</text>
<path d="M336 1185.3h11M1036 1185.3h11" stroke="#777" stroke-width="1.3"/>
<path d="M434 1186h3M1134 1186h3" stroke="#aaa" stroke-width="1.2"/>
<g font-family="Liberation Sans, Arial, Helvetica, sans-serif" fill="#000">
<text x="6.3" y="35.2" font-size="41" letter-spacing="-2.6">a)</text>
<text x="5" y="791.3" font-size="41">b)</text>
<text x="4" y="1185" font-size="43">c)</text>
<text x="707" y="1185" font-size="43">d)</text>
<text x="4" y="1824" font-size="43">e)</text>
<text x="712.5" y="1824" font-size="43">f)</text>
</g>
</svg>
</body></html>
